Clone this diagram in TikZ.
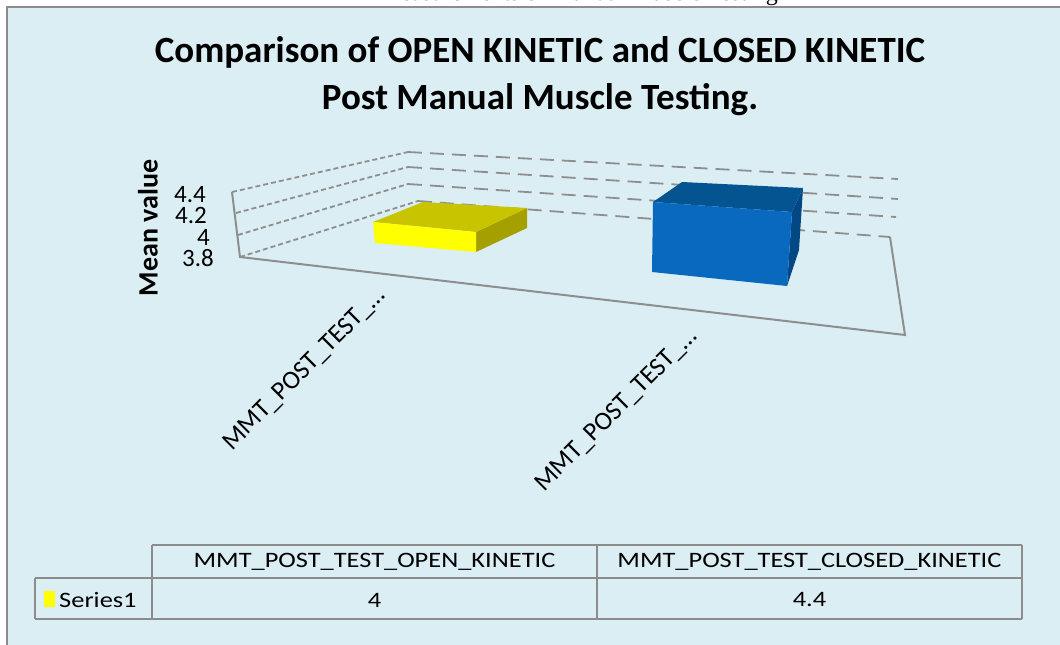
\documentclass[tikz,border=0pt]{standalone}
\usepackage{fontspec}
\setmainfont{Carlito}
\newfontfamily\capfont{Liberation Serif}
\definecolor{bgblue}{HTML}{DBEEF3}
\definecolor{framegray}{HTML}{8C8C8C}
\definecolor{gridgray}{HTML}{8E8E8E}
\definecolor{yfront}{HTML}{FFFF00}
\definecolor{ytop}{HTML}{C8C400}
\definecolor{yside}{HTML}{A4A000}
\definecolor{bfront}{HTML}{0869BF}
\definecolor{btop}{HTML}{045492}
\definecolor{bside}{HTML}{034884}
\tikzset{
  gridleft/.style={draw=gridgray, line width=1.8pt, dash pattern=on 5pt off 3pt},
  gridback/.style={draw=gridgray, line width=1.8pt, dash pattern=on 14pt off 8pt},
  axisline/.style={draw=gridgray, line width=2pt},
  ticklab/.style={font=\fontsize{25}{25}\selectfont, anchor=east, inner sep=0pt},
  catlab/.style={font=\fontsize{26}{26}\selectfont, rotate=45, anchor=east, inner sep=0pt},
  tabline/.style={draw=framegray, line width=1.8pt},
  tabtext/.style={font=\fontsize{22}{22}\selectfont, inner sep=0pt, xscale=1.2}
}
\begin{document}
\begin{tikzpicture}[x=1pt,y=-1pt]
\useasboundingbox (0,0) rectangle (1060,645);
\clip (0,0) rectangle (1060,645);
\fill[white] (0,0) rectangle (1060,645);
% clipped caption above the chart
\node[font=\capfont\fontsize{24}{24}\selectfont, anchor=base east, inner sep=0pt] (cap) at (778,0.5) {Measurements of Manual Muscle Testing};
% chart area
\fill[bgblue] (6,6) rectangle (1062,647);
\draw[framegray, line width=2pt] (7,650) -- (7,7) -- (1065,7);
% title
\node[font=\bfseries\fontsize{37}{47}\selectfont, align=center] (title) at (540,76.5) {Comparison of OPEN KINETIC and CLOSED KINETIC\\Post Manual Muscle Testing.};
% y axis label
\node[font=\bfseries\fontsize{28}{28}\selectfont, rotate=90] (ylab) at (148,228) {Mean value};
% tick labels
\node[ticklab] (t44) at (206,195) {4.4};
\node[ticklab] (t42) at (207,215) {4.2};
\node[ticklab] (t40) at (210,237) {4};
\node[ticklab] (t38) at (214,258) {3.8};
% back wall grid lines
\draw[gridback] (408,152) -- (898,179);
\draw[gridback] (408,167) -- (898,199);
\draw[gridback] (408,184) -- (896,217);
\draw[gridback] (418,201) -- (890,237);
% left wall grid lines
\draw[gridleft] (232,192) -- (408,152);
\draw[gridleft] (236,213) -- (408,167);
\draw[gridleft] (238,235) -- (408,184);
\draw[gridleft] (240,257) -- (418,201);
% axis edges
\draw[axisline] (232,192) -- (240,257) -- (905,335) -- (890,237);
% yellow bar
\fill[yside] (476,232) -- (527,208) -- (527,228) -- (476,252) -- cycle;
\fill[ytop] (373,222) -- (423,202) -- (527,208) -- (476,232) -- cycle;
\fill[yfront] (373,222) -- (476,232) -- (476,252) -- (375,243) -- cycle;
% blue bar
\fill[bside] (792,212) -- (803,188) -- (799,250) -- (787,286) -- cycle;
\fill[btop] (653,202) -- (682,182) -- (803,188) -- (792,212) -- cycle;
\fill[bfront] (653,202) -- (792,212) -- (787,286) -- (652,272) -- cycle;
% category labels
\node[catlab] (cat1) at (382,292) {MMT\_POST\_TEST\_…};
\node[catlab] (cat2) at (694,333) {MMT\_POST\_TEST\_…};
% data table
\draw[tabline] (152,545) -- (1022,545);
\draw[tabline] (35,578) -- (1022,578);
\draw[tabline] (35,619) -- (1022,619);
\draw[tabline] (35,578) -- (35,619);
\draw[tabline] (152,545) -- (152,619);
\draw[tabline] (597,545) -- (597,619);
\draw[tabline] (1022,545) -- (1022,619);
\node[tabtext] (h1) at (374.5,562) {MMT\_POST\_TEST\_OPEN\_KINETIC};
\node[tabtext] (h2) at (809.5,562) {MMT\_POST\_TEST\_CLOSED\_KINETIC};
\fill[yfront] (44,591) rectangle (55,607);
\node[tabtext, anchor=west] (ser) at (59,600) {Series1};
\node[tabtext] (v1) at (374.5,600) {4};
\node[tabtext] (v2) at (809.5,600) {4.4};
\end{tikzpicture}
\end{document}
